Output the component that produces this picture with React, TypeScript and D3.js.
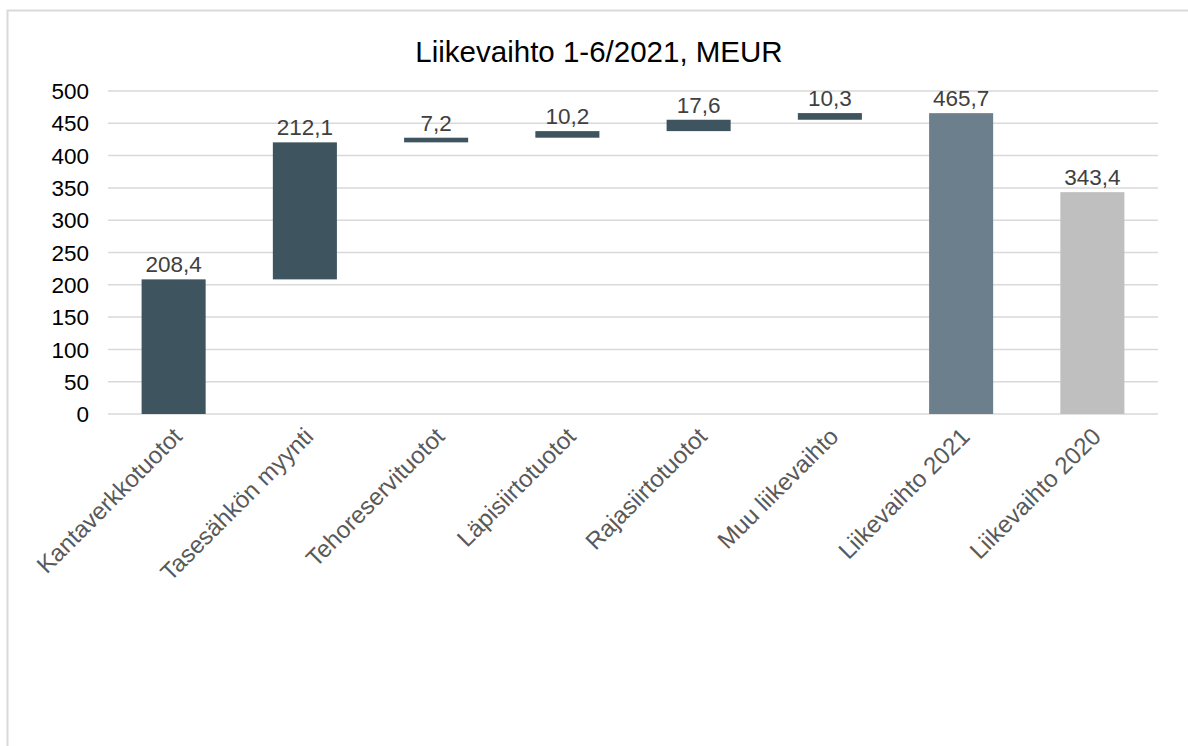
import React from 'react';
import * as d3 from 'd3';

const TITLE = 'Liikevaihto 1-6/2021, MEUR';
const CATEGORIES = [
  'Kantaverkkotuotot',
  'Tasesähkön myynti',
  'Tehoreservituotot',
  'Läpisiirtotuotot',
  'Rajasiirtotuotot',
  'Muu liikevaihto',
  'Liikevaihto 2021',
  'Liikevaihto 2020',
];
const VALUES = [208.4, 212.1, 7.2, 10.2, 17.6, 10.3, 465.7, 343.4];
// 'step' bars float on the running sum, 'total' bars start from zero
const KINDS = ['step', 'step', 'step', 'step', 'step', 'step', 'total', 'prev'];
const Y_TICKS = [0, 50, 100, 150, 200, 250, 300, 350, 400, 450, 500];

const WIDTH = 1188;
const HEIGHT = 746;
const LEFT = 108;
const RIGHT = 1158;
const TOP = 91;
const BOTTOM = 414;
const FONT = '"Liberation Sans", Arial, sans-serif';

const COLORS: Record<string, string> = {
  step: '#3e545f',
  total: '#6b808c',
  prev: '#bfbfbf',
};

const fmt = (v: number) => v.toFixed(1).replace('.', ',');

export default function App() {
  const x = d3.scaleBand<string>()
    .domain(CATEGORIES)
    .range([LEFT, RIGHT])
    .paddingInner(0.512)
    .paddingOuter(0.256);
  const y = d3.scaleLinear().domain([0, 500]).range([BOTTOM, TOP]);

  let run = 0;
  const bars = CATEGORIES.map((c, i) => {
    const v = VALUES[i];
    let lo = 0;
    let hi = v;
    if (KINDS[i] === 'step') {
      lo = run;
      hi = run + v;
      run = hi;
    }
    return { c, v, lo, hi, kind: KINDS[i] };
  });

  return (
    <div style={{ position: 'fixed', left: 0, top: 0 }}>
      <svg width={WIDTH} height={HEIGHT} style={{ display: 'block', background: '#fff' }}>
        <rect x={7.5} y={10.5} width={WIDTH + 50} height={HEIGHT + 50} fill="none" stroke="#d9d9d9" strokeWidth={2} />
        <text x={599} y={62} textAnchor="middle" fontFamily={FONT} fontSize={29.5} fill="#000">{TITLE}</text>

        {Y_TICKS.map((t) => (
          <g key={t}>
            <line x1={LEFT} x2={RIGHT} y1={y(t)} y2={y(t)} stroke="#d9d9d9" strokeWidth={1.5} />
            <text x={89} y={y(t)} dy="0.36em" textAnchor="end" fontFamily={FONT} fontSize={22.5} fill="#000">{t}</text>
          </g>
        ))}

        {bars.map((b) => (
          <g key={b.c}>
            <rect
              x={x(b.c)}
              y={y(b.hi)}
              width={x.bandwidth()}
              height={y(b.lo) - y(b.hi)}
              fill={COLORS[b.kind]}
            />
            <text
              x={(x(b.c) as number) + x.bandwidth() / 2}
              y={y(b.hi) - 7}
              textAnchor="middle"
              fontFamily={FONT}
              fontSize={22.5}
              fill="#404040"
            >
              {fmt(b.v)}
            </text>
          </g>
        ))}

        {CATEGORIES.map((c) => {
          const cx = (x(c) as number) + x.bandwidth() / 2;
          return (
            <text
              key={c}
              transform={`translate(${cx + 4},${BOTTOM + 18}) rotate(-45)`}
              textAnchor="end"
              dy="0.35em"
              fontFamily={FONT}
              fontSize={24}
              fill="#595959"
            >
              {c}
            </text>
          );
        })}
      </svg>
    </div>
  );
}
